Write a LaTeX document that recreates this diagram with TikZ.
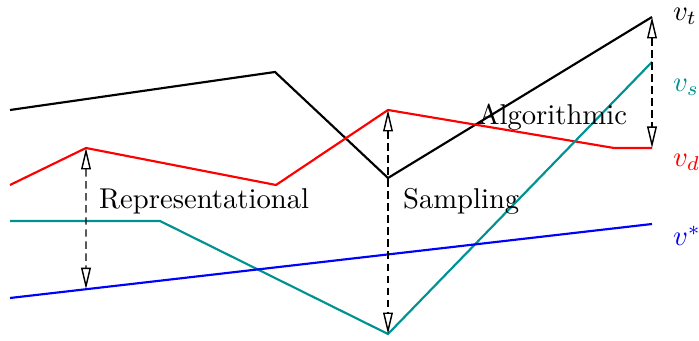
\documentclass[tikz,border=0pt]{standalone}
\usetikzlibrary{arrows.meta,calc}
\definecolor{vscol}{RGB}{0,145,145}

\begin{document}
\begin{tikzpicture}[x=0.349pt, y=-0.349pt, line width=0.75pt,
	gap/.style={{Triangle[open,length=7.5pt,width=3.4pt]}-{Triangle[open,length=7.5pt,width=3.4pt]}, dashed, dash pattern=on 2.6pt off 1.6pt, line width=0.5pt},
	lbl/.style={anchor=west, inner sep=0pt}]
	\useasboundingbox (0,0) rectangle (699,341);
	% curve points
	\coordinate (t0) at (10,110);
	\coordinate (t1) at (275,72);
	\coordinate (t2) at (388,178);
	\coordinate (t3) at (652,17);
	\coordinate (d0) at (10,185);
	\coordinate (d1) at (86,148);
	\coordinate (d2) at (276,185);
	\coordinate (d3) at (388,110);
	\coordinate (d4) at (614,148);
	\coordinate (d5) at (652,148);
	\coordinate (s0) at (10,221);
	\coordinate (s1) at (160,221);
	\coordinate (s2) at (388,334);
	\coordinate (s3) at (652,62);
	\coordinate (b0) at (10,298);
	\coordinate (b1) at (652,224);
	\coordinate (b86) at ($(b0)!76/642!(b1)$);
	% curves
	\draw[black] (t0) -- (t1) -- (t2) -- (t3);
	\draw[red] (d0) -- (d1) -- (d2) -- (d3) -- (d4) -- (d5);
	\draw[vscol] (s0) -- (s1) -- (s2) -- (s3);
	\draw[blue] (b0) -- (b1);
	% gaps
	\draw[gap] (d1) -- (b86);
	\draw[gap] (d3) -- (s2);
	\draw[gap] (t3) -- (d5);
	% labels
	\node[lbl] (rep) at (98,201) {Representational};
	\node[lbl] (samp) at (402,201) {Sampling};
	\node[lbl] (alg) at (477,117) {Algorithmic};
	\node[lbl] (vt) at (672,16) {$v_t$};
	\node[lbl, vscol] (vs) at (672,87) {$v_s$};
	\node[lbl, red] (vd) at (672,162) {$v_d$};
	\node[lbl, blue] (vstar) at (672,236) {$v^*$};
\end{tikzpicture}
\end{document}
